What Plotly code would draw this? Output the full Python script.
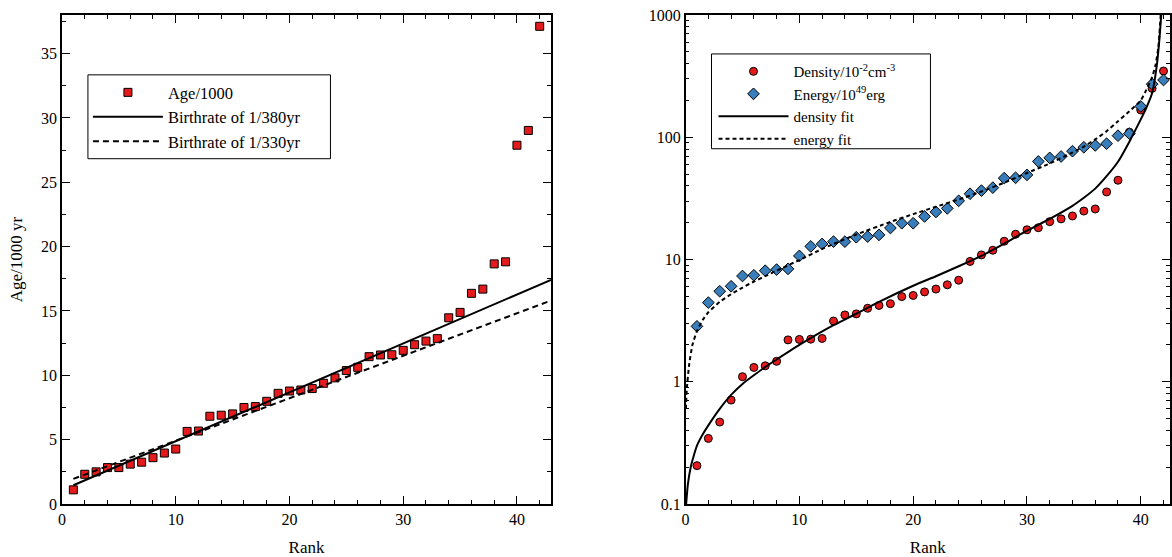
import plotly.graph_objects as go

# ---------------- data: left panel ----------------
rank = list(range(1, 43))
age_kyr = [1.10, 2.31, 2.50, 2.83, 2.83, 3.10, 3.25, 3.60, 3.96, 4.27,
           5.64, 5.67, 6.82, 6.90, 7.00, 7.50, 7.57, 7.98, 8.60, 8.78,
           8.86, 8.97, 9.38, 9.80, 10.37, 10.62, 11.45, 11.58, 11.60, 11.94,
           12.38, 12.66, 12.85, 14.47, 14.89, 16.37, 16.70, 18.66, 18.82, 27.88,
           29.03, 37.12]
line_rank = [1, 43]
rate380 = [1.46, 17.42]
rate330 = [1.95, 15.81]

# ---------------- data: right panel ----------------
density = [0.206, 0.344, 0.468, 0.708, 1.10, 1.31, 1.35, 1.47, 2.20, 2.22,
           2.23, 2.26, 3.14, 3.52, 3.59, 3.99, 4.21, 4.35, 4.97, 5.08,
           5.43, 5.73, 6.21, 6.77, 9.64, 10.9, 11.9, 14.1, 16.1, 17.5,
           18.2, 20.4, 21.5, 22.7, 24.9, 25.9, 35.7, 44.5, 110, 167,
           251, 348]
energy = [2.84, 4.44, 5.50, 6.04, 7.33, 7.43, 8.10, 8.27, 8.38, 10.7,
          12.8, 13.4, 14.0, 14.0, 15.2, 15.4, 15.9, 18.1, 19.8, 19.8,
          22.5, 24.5, 26.2, 30.2, 34.5, 36.6, 38.7, 46.3, 46.6, 49.2,
          63.4, 67.8, 69.6, 76.9, 82.8, 85.7, 88.6, 103, 107, 179,
          272, 294]

dfit_rank = [0.05, 0.2, 0.45, 0.7, 1.0, 1.5, 2.0, 3.0, 4.0, 5.0, 6, 7, 8,
             10, 13, 15, 17, 20, 22, 24, 26, 28, 30, 32, 34, 35, 36, 37,
             38, 39, 40, 40.5, 41, 41.4, 41.65, 41.8]
dfit_val = [0.1, 0.145, 0.2, 0.245, 0.30, 0.37, 0.44, 0.60, 0.78, 0.96, 1.13, 1.32, 1.52,
            2.0, 2.9, 3.6, 4.5, 6.1, 7.3, 8.8, 10.7, 13.5, 17.2, 21.5, 27.5, 32, 38, 48,
            63, 92, 140, 175, 230, 380, 650, 1000]

efit_rank = [0.03, 0.1, 0.3, 0.6, 1.0, 1.5, 2.0, 3, 4, 5, 6, 7, 8, 10, 12,
             13, 15, 18, 20, 22, 24, 26, 28, 30, 32, 34, 35, 36, 37, 38,
             39, 40, 40.5, 41, 41.3, 41.55, 41.75]
efit_val = [0.6, 0.85, 1.35, 2.0, 2.6, 3.2, 3.7, 4.5, 5.2, 5.9, 6.6, 7.3, 8.1, 9.9, 12.2,
            13.4, 16, 20.3, 23.5, 27, 31, 36, 42.5, 51, 61, 75, 84, 96, 112, 135,
            163, 200, 245, 310, 390, 550, 1000]

RED = "#e41a1c"
BLUE = "#3a7dbb"
FONT = "Liberation Serif"

fig = go.Figure()

# left panel
fig.add_trace(go.Scatter(x=rank, y=age_kyr, mode="markers", name="Age/1000",
                         marker=dict(symbol="square", size=8, color=RED,
                                     line=dict(color="black", width=1)),
                         xaxis="x", yaxis="y", legend="legend"))
fig.add_trace(go.Scatter(x=line_rank, y=rate380, mode="lines", name="Birthrate of 1/380yr",
                         line=dict(color="black", width=2),
                         xaxis="x", yaxis="y", legend="legend"))
fig.add_trace(go.Scatter(x=line_rank, y=rate330, mode="lines", name="Birthrate of 1/330yr",
                         line=dict(color="black", width=2, dash="6px,4px"),
                         xaxis="x", yaxis="y", legend="legend"))

# right panel
fig.add_trace(go.Scatter(x=rank, y=density, mode="markers", name="Density/10<sup>-2</sup>cm<sup>-3</sup>",
                         marker=dict(symbol="circle", size=8, color=RED,
                                     line=dict(color="black", width=1)),
                         xaxis="x2", yaxis="y2", legend="legend2"))
fig.add_trace(go.Scatter(x=rank, y=energy, mode="markers", name="Energy/10<sup>49</sup>erg",
                         marker=dict(symbol="diamond", size=9, color=BLUE,
                                     line=dict(color="black", width=1)),
                         xaxis="x2", yaxis="y2", legend="legend2"))
fig.add_trace(go.Scatter(x=dfit_rank, y=dfit_val, mode="lines", name="density fit",
                         line=dict(color="black", width=2, shape="spline", smoothing=0.5),
                         xaxis="x2", yaxis="y2", legend="legend2"))
fig.add_trace(go.Scatter(x=efit_rank, y=efit_val, mode="lines", name="energy fit",
                         line=dict(color="black", width=2, dash="4px,3px", shape="spline", smoothing=0.5),
                         xaxis="x2", yaxis="y2", legend="legend2"))

axis_common = dict(showline=True, linecolor="black", linewidth=1.5, mirror="allticks",
                   ticks="inside", ticklen=8, tickwidth=1.2, tickcolor="black",
                   showgrid=False, zeroline=False,
                   tickfont=dict(family=FONT, size=16, color="black"))

# legend frames (paper coordinates)
legend_frames = [
    dict(x0=0.0234, x1=0.2423, y0=0.7061, y1=0.8776),
    dict(x0=0.5862, x1=0.7838, y0=0.7265, y1=0.9204),
]
shapes = [dict(type="rect", xref="paper", yref="paper", layer="above",
               line=dict(color="black", width=1), fillcolor="white", **f)
          for f in legend_frames]

fig.update_layout(
    width=1172, height=557,
    margin=dict(l=62, r=0, t=15, b=52),
    paper_bgcolor="white", plot_bgcolor="white",
    font=dict(family=FONT, color="black"),
    showlegend=True,
    shapes=shapes,
    xaxis=dict(domain=[0, 0.4414], range=[0, 43], dtick=10,
               minor=dict(ticks="inside", ticklen=4, dtick=2, tickcolor="black"),
               title=dict(text="Rank", font=dict(family=FONT, size=17), standoff=17),
               anchor="y", **axis_common),
    yaxis=dict(domain=[0, 1], range=[0, 38], dtick=5,
               minor=dict(ticks="inside", ticklen=4, dtick=2.5, tickcolor="black"),
               title=dict(text="Age/1000 yr", font=dict(family=FONT, size=17), standoff=14),
               anchor="x", **axis_common),
    xaxis2=dict(domain=[0.5628, 1.0], range=[0, 42.57], dtick=10,
                minor=dict(ticks="inside", ticklen=4, dtick=2, tickcolor="black"),
                title=dict(text="Rank", font=dict(family=FONT, size=17), standoff=17),
                anchor="y2", **axis_common),
    yaxis2=dict(domain=[0, 1], type="log", range=[-1, 3], dtick=1,
                tickvals=[0.1, 1, 10, 100, 1000], ticktext=["0.1", "1", "10", "100", "1000"],
                minor=dict(ticks="inside", ticklen=4, dtick="D1", tickcolor="black"),
                anchor="x2", **axis_common),
    legend=dict(x=0.0234, y=0.877, xanchor="left", yanchor="top",
                borderwidth=0, bgcolor="rgba(0,0,0,0)",
                font=dict(family=FONT, size=16.5, color="black"),
                itemwidth=70, tracegroupgap=0),
    legend2=dict(x=0.5880, y=0.918, xanchor="left", yanchor="top",
                 borderwidth=0, bgcolor="rgba(0,0,0,0)",
                 font=dict(family=FONT, size=15, color="black"),
                 itemwidth=70, tracegroupgap=0),
)

fig.write_html("out.html", config={"displayModeBar": False},
               post_script="document.body.style.margin='0px';")
